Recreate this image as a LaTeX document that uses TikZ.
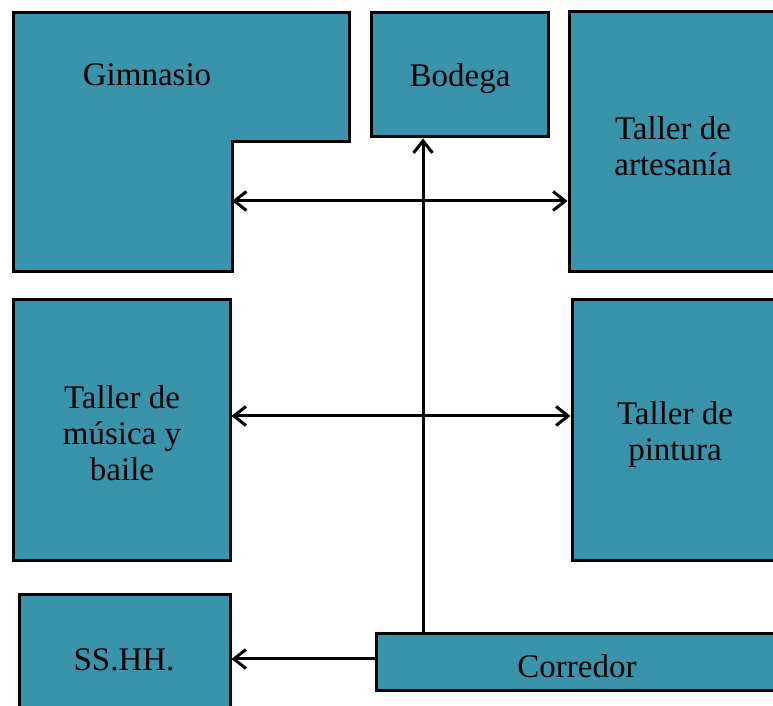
\documentclass[tikz,border=0pt]{standalone}
\usepackage{fontspec}
\setmainfont{Liberation Serif}
\usetikzlibrary{positioning, arrows.meta, calc}

\definecolor{roomteal}{RGB}{56,147,171}

\begin{document}
\begin{tikzpicture}[
    x = 1pt, y = 1pt,
    > = {Straight Barb[length=12pt, width=19pt, line width=3pt]},
    line width = 3pt,
    room/.style={draw, fill=roomteal, rectangle, inner sep=0pt},
    label text/.style={align=center, font=\fontsize{33}{36}\selectfont}
]
\useasboundingbox (0,0) rectangle (773,706);

% --- Top row ---
\draw[fill=roomteal] (13,693) -- (349,693) -- (349,564) -- (232,564)
    -- (232,434) -- (13,434) -- cycle;
\node[label text] (gim) at (147,631) {Gimnasio};
\coordinate (gimE) at (232,505);

\node[room, minimum width=177pt, minimum height=124pt] (bod) at (459.5,631) {};
\node[label text] (bodT) at (460,627) {Bodega};
\node[room, minimum width=211pt, minimum height=260pt] (art) at (674.5,564) {};
\node[label text] (artT) at (673,560) {Taller de\\artesanía};

% --- Middle row ---
\node[room, minimum width=217pt, minimum height=261pt] (mus) at (121.5,275.5) {};
\node[label text] (musT) at (122,273) {Taller de\\música y\\baile};
\node[room, minimum width=208pt, minimum height=261pt] (pin) at (676,275.5) {};
\node[label text] (pinT) at (675,271) {Taller de\\pintura};

% --- Bottom row ---
\node[room, minimum width=211pt, minimum height=128pt] (ss) at (124.5,47) {};
\node[label text] (ssT) at (124,46) {SS.HH.};
\node[room, minimum width=402pt, minimum height=57pt] (corr) at (577,43.5) {};
\node[label text] (corrT) at (577,40) {Corredor};
\coordinate (vup) at (423,0);

% Connections
\draw[->] (corr.north -| vup) -- (bod.south -| vup);
\draw[<->] (gimE) -- (art.west |- gimE);
\draw[<->] ([yshift=14.5pt]mus.east) -- ([yshift=14.5pt]pin.west);
\draw[->] (corr.west |- ss.east) -- (ss.east);

\end{tikzpicture}
\end{document}
